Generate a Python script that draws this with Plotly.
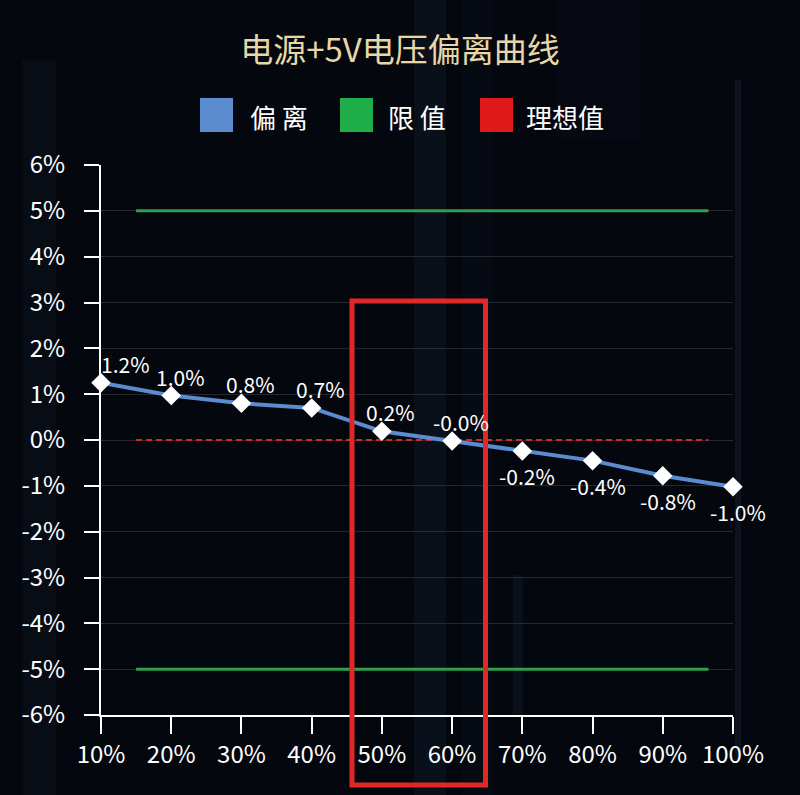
import plotly.graph_objects as go

# load levels (x) and voltage deviation (%)
load_levels = [10, 20, 30, 40, 50, 60, 70, 80, 90, 100]
load_labels = ["10%", "20%", "30%", "40%", "50%", "60%", "70%", "80%", "90%", "100%"]
deviation = [1.25, 0.97, 0.80, 0.70, 0.19, -0.02, -0.24, -0.45, -0.78, -1.02]
deviation_labels = ["1.2%", "1.0%", "0.8%", "0.7%", "0.2%", "-0.0%", "-0.2%", "-0.4%", "-0.8%", "-1.0%"]
limit_span = [15, 96.5]
limit_upper = 5
limit_lower = -5
ideal_value = 0
y_ticks = [-6, -5, -4, -3, -2, -1, 0, 1, 2, 3, 4, 5, 6]

TITLE = "电源+5V电压偏离曲线"
FONT = "Noto Sans CJK SC"
W, H = 800, 795
L, R, T, B = 101, 67, 165, 80

BLUE = "#5b8cd0"
GREEN = "#2f9f4c"
RED = "#d22a2a"


def px_x(px):
    return (px - L) / (W - L - R)


def px_y(py):
    return (H - B - py) / (H - T - B)


fig = go.Figure()

fig.add_trace(go.Scatter(
    x=limit_span, y=[limit_upper] * 2, mode="lines",
    line=dict(color=GREEN, width=3), name="限 值",
))
fig.add_trace(go.Scatter(
    x=limit_span, y=[limit_lower] * 2, mode="lines",
    line=dict(color=GREEN, width=3), name="限 值",
))
fig.add_trace(go.Scatter(
    x=limit_span, y=[ideal_value] * 2, mode="lines",
    line=dict(color=RED, width=2, dash="6px,4px"), name="理想值",
))
fig.add_trace(go.Scatter(
    x=load_levels, y=deviation, mode="lines+markers",
    line=dict(color=BLUE, width=4),
    marker=dict(symbol="diamond", size=15, color="white", line=dict(width=0)),
    cliponaxis=False, name="偏 离",
))

annotations = []
# point labels: above for positive, below for negative values
for i, (xv, yv, lab) in enumerate(zip(load_levels, deviation, deviation_labels)):
    below = lab.startswith("-") and lab != "-0.0%"
    if i == 0:
        dx = 24
    elif below:
        dx = 5
    else:
        dx = 9
    annotations.append(dict(
        x=xv, y=yv, xref="x", yref="y", text=lab, showarrow=False,
        xanchor="center", yanchor="middle",
        xshift=dx, yshift=-25 if below else 19,
        font=dict(family=FONT, size=21, color="white"),
    ))

shapes = []
# faint vertical light streaks in the background
for x0, x1, y0, y1, op in [
    (22, 56, 60, 795, 0.06), (414, 446, 0, 795, 0.09), (462, 492, 0, 795, 0.04),
    (735, 741, 80, 760, 0.12), (513, 523, 575, 715, 0.09), (555, 640, 0, 140, 0.03),
]:
    shapes.append(dict(
        type="rect", xref="paper", yref="paper", layer="below",
        x0=px_x(x0), x1=px_x(x1), y0=px_y(y1), y1=px_y(y0),
        fillcolor=f"rgba(80,110,150,{op})", line=dict(width=0),
    ))

# highlight box around 50%-60%
shapes.append(dict(
    type="rect", xref="paper", yref="paper", layer="above",
    x0=px_x(352), x1=px_x(485.5), y0=px_y(785), y1=px_y(301),
    line=dict(color="#e02828", width=5), fillcolor="rgba(0,0,0,0)",
))

# legend drawn by hand to get the large square swatches
for sx, tx, color, label in [
    (200, 248, BLUE, "偏 离"), (340, 386, "#1fae4a", "限 值"), (480, 524, "#e01a1a", "理想值"),
]:
    shapes.append(dict(
        type="rect", xref="paper", yref="paper",
        x0=px_x(sx), x1=px_x(sx + 33), y0=px_y(132), y1=px_y(98),
        fillcolor=color, line=dict(width=0),
    ))
    annotations.append(dict(
        xref="paper", yref="paper", x=px_x(tx), y=px_y(116),
        xanchor="left", yanchor="middle", text=label, showarrow=False,
        font=dict(family=FONT, size=26, color="white"),
    ))

fig.update_layout(
    width=W, height=H,
    margin=dict(l=L, r=R, t=T, b=B),
    paper_bgcolor="#04070d", plot_bgcolor="rgba(0,0,0,0)",
    title=dict(
        text=TITLE, x=0.5, xref="container", xanchor="center",
        y=1 - 50 / H, yref="container", yanchor="middle",
        font=dict(family=FONT, size=33, color="#e8d7a6"),
    ),
    shapes=shapes, annotations=annotations,
    showlegend=False,
    xaxis=dict(
        range=[10, 100], tickvals=load_levels, ticktext=load_labels,
        showgrid=False, zeroline=False,
        showline=True, linecolor="white", linewidth=2,
        ticks="outside", ticklen=17, tickwidth=2, tickcolor="white",
        tickfont=dict(family=FONT, size=24, color="white"),
    ),
    yaxis=dict(
        range=[-6, 6], tickvals=y_ticks, ticktext=[f"{v}%" for v in y_ticks],
        showgrid=True, gridcolor="#25282e", gridwidth=1, zeroline=False,
        showline=True, linecolor="white", linewidth=2,
        ticks="outside", ticklen=15, tickwidth=2, tickcolor="white",
        ticklabelstandoff=14,
        tickfont=dict(family=FONT, size=24, color="white"),
    ),
)

# drop the default page margin so the figure fills the window
fig.write_html(
    "out.html",
    config={"displayModeBar": False},
    post_script="document.body.style.margin='0';",
)
